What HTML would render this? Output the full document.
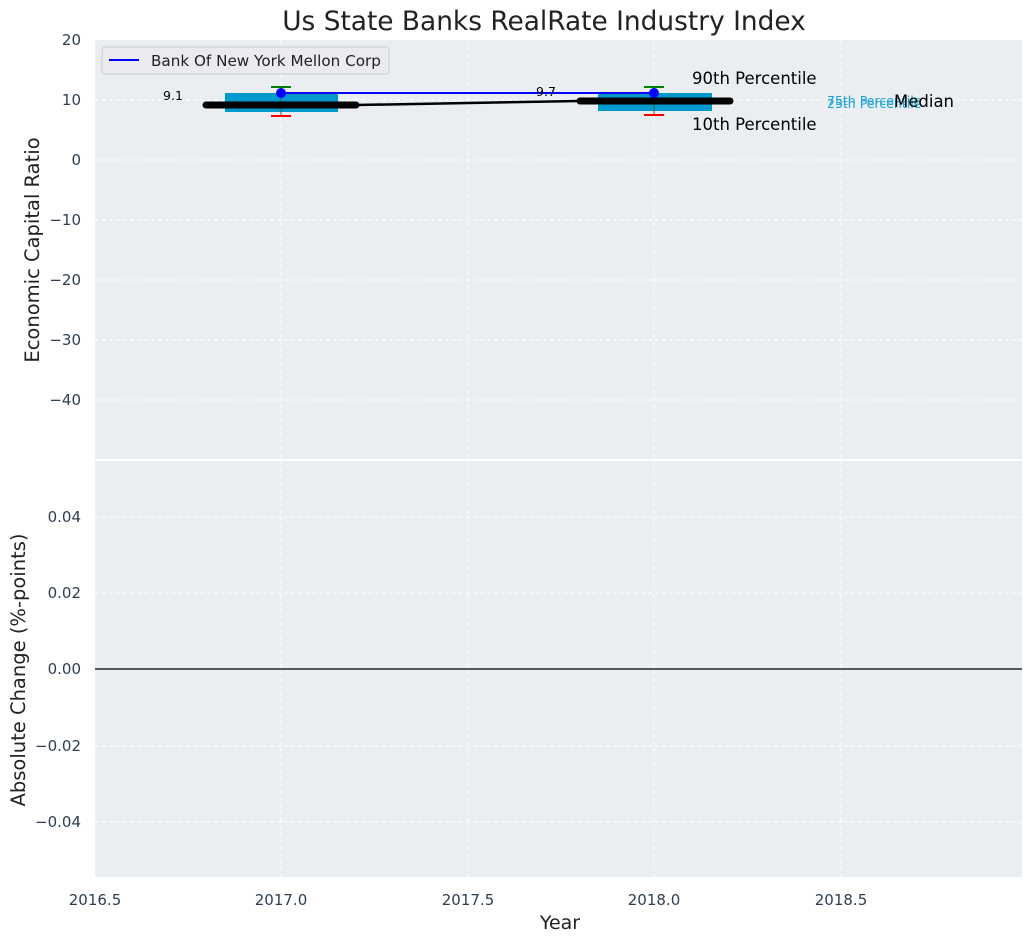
<!DOCTYPE html>
<html><head><meta charset="utf-8"><style>body{margin:0;background:#fff}svg{display:block;font-family:"DejaVu Sans","Liberation Sans",sans-serif}</style></head><body>
<svg width="1034" height="942" xmlns="http://www.w3.org/2000/svg">
<rect x="0" y="0" width="1034" height="942" fill="#fff"/>
<rect x="95" y="40" width="927" height="419" fill="#eaeef0"/>
<rect x="95" y="461" width="927" height="416" fill="#eaeef0"/>
<g stroke="#fff" stroke-dasharray="4,3" stroke-width="1">
<line x1="281" y1="40" x2="281" y2="459"/><line x1="468" y1="40" x2="468" y2="459"/><line x1="654" y1="40" x2="654" y2="459"/><line x1="841" y1="40" x2="841" y2="459"/>
<line x1="95" y1="100" x2="1022" y2="100"/><line x1="95" y1="160" x2="1022" y2="160"/><line x1="95" y1="220" x2="1022" y2="220"/><line x1="95" y1="280" x2="1022" y2="280"/><line x1="95" y1="340" x2="1022" y2="340"/><line x1="95" y1="400" x2="1022" y2="400"/>
<line x1="281" y1="461" x2="281" y2="877"/><line x1="468" y1="461" x2="468" y2="877"/><line x1="654" y1="461" x2="654" y2="877"/><line x1="841" y1="461" x2="841" y2="877"/>
<line x1="95" y1="517" x2="1022" y2="517"/><line x1="95" y1="593" x2="1022" y2="593"/><line x1="95" y1="746" x2="1022" y2="746"/><line x1="95" y1="822" x2="1022" y2="822"/>
</g>
<line x1="95" y1="669" x2="1022" y2="669" stroke="#000" stroke-width="1.2"/>
<text x="544" y="30" font-size="26.4" text-anchor="middle" fill="#222">Us State Banks RealRate Industry Index</text>
<g font-size="15" fill="#2d3e50" text-anchor="end">
<text x="81" y="45">20</text><text x="81" y="105">10</text><text x="81" y="165">0</text><text x="81" y="225">−10</text><text x="81" y="285">−20</text><text x="81" y="345">−30</text><text x="81" y="405">−40</text>
<text x="81" y="522">0.04</text><text x="81" y="598">0.02</text><text x="81" y="674">0.00</text><text x="81" y="751">−0.02</text><text x="81" y="827">−0.04</text>
</g>
<g font-size="15" fill="#2d3e50" text-anchor="middle">
<text x="95" y="905">2016.5</text><text x="281" y="905">2017.0</text><text x="468" y="905">2017.5</text><text x="654" y="905">2018.0</text><text x="841" y="905">2018.5</text>
</g>
<text x="560" y="929" font-size="19" text-anchor="middle" fill="#222">Year</text>
<text transform="translate(39,250) rotate(-90)" font-size="19.5" text-anchor="middle" fill="#222">Economic Capital Ratio</text>
<text transform="translate(25,670) rotate(-90)" font-size="19.5" text-anchor="middle" fill="#222">Absolute Change (%-points)</text>
<rect x="225" y="93" width="113" height="19" fill="#0099cc"/>
<rect x="598" y="93" width="114" height="18" fill="#0099cc"/>
<line x1="281" y1="87" x2="281" y2="116" stroke="#555" stroke-width="1"/>
<line x1="654" y1="87" x2="654" y2="115" stroke="#555" stroke-width="1"/>
<line x1="271" y1="87" x2="291" y2="87" stroke="green" stroke-width="2"/>
<line x1="271" y1="116" x2="291" y2="116" stroke="red" stroke-width="2"/>
<line x1="644" y1="87" x2="664" y2="87" stroke="green" stroke-width="2"/>
<line x1="644" y1="115" x2="664" y2="115" stroke="red" stroke-width="2"/>
<line x1="357" y1="105" x2="579" y2="101" stroke="#000" stroke-width="2.5"/>
<line x1="206" y1="105" x2="356" y2="105" stroke="#000" stroke-width="7" stroke-linecap="round"/>
<line x1="580" y1="101" x2="730" y2="101" stroke="#000" stroke-width="7" stroke-linecap="round"/>
<line x1="281" y1="93" x2="654" y2="93" stroke="#0000ff" stroke-width="2"/>
<circle cx="281" cy="93" r="5" fill="#0000ff"/><circle cx="654" cy="93" r="5" fill="#0000ff"/>
<text x="173" y="100" font-size="12.5" text-anchor="middle" fill="#000">9.1</text>
<text x="546" y="96" font-size="12.5" text-anchor="middle" fill="#000">9.7</text>
<text x="692" y="84" font-size="16.5" fill="#000">90th Percentile</text>
<text x="692" y="130" font-size="16.5" fill="#000">10th Percentile</text>
<text x="827" y="105" font-size="12.5" fill="#1aa3d4">75th Percentile</text>
<text x="827" y="108" font-size="12.5" fill="#1aa3d4">25th Percentile</text>
<text x="894" y="107" font-size="16.5" fill="#000">Median</text>
<rect x="102" y="47" width="287" height="27" rx="3" fill="#eaeaf0" stroke="#ccc"/>
<line x1="109" y1="60" x2="139" y2="60" stroke="#0000ff" stroke-width="2"/>
<text x="151" y="66" font-size="15.2" fill="#222">Bank Of New York Mellon Corp</text>
</svg>
</body></html>
